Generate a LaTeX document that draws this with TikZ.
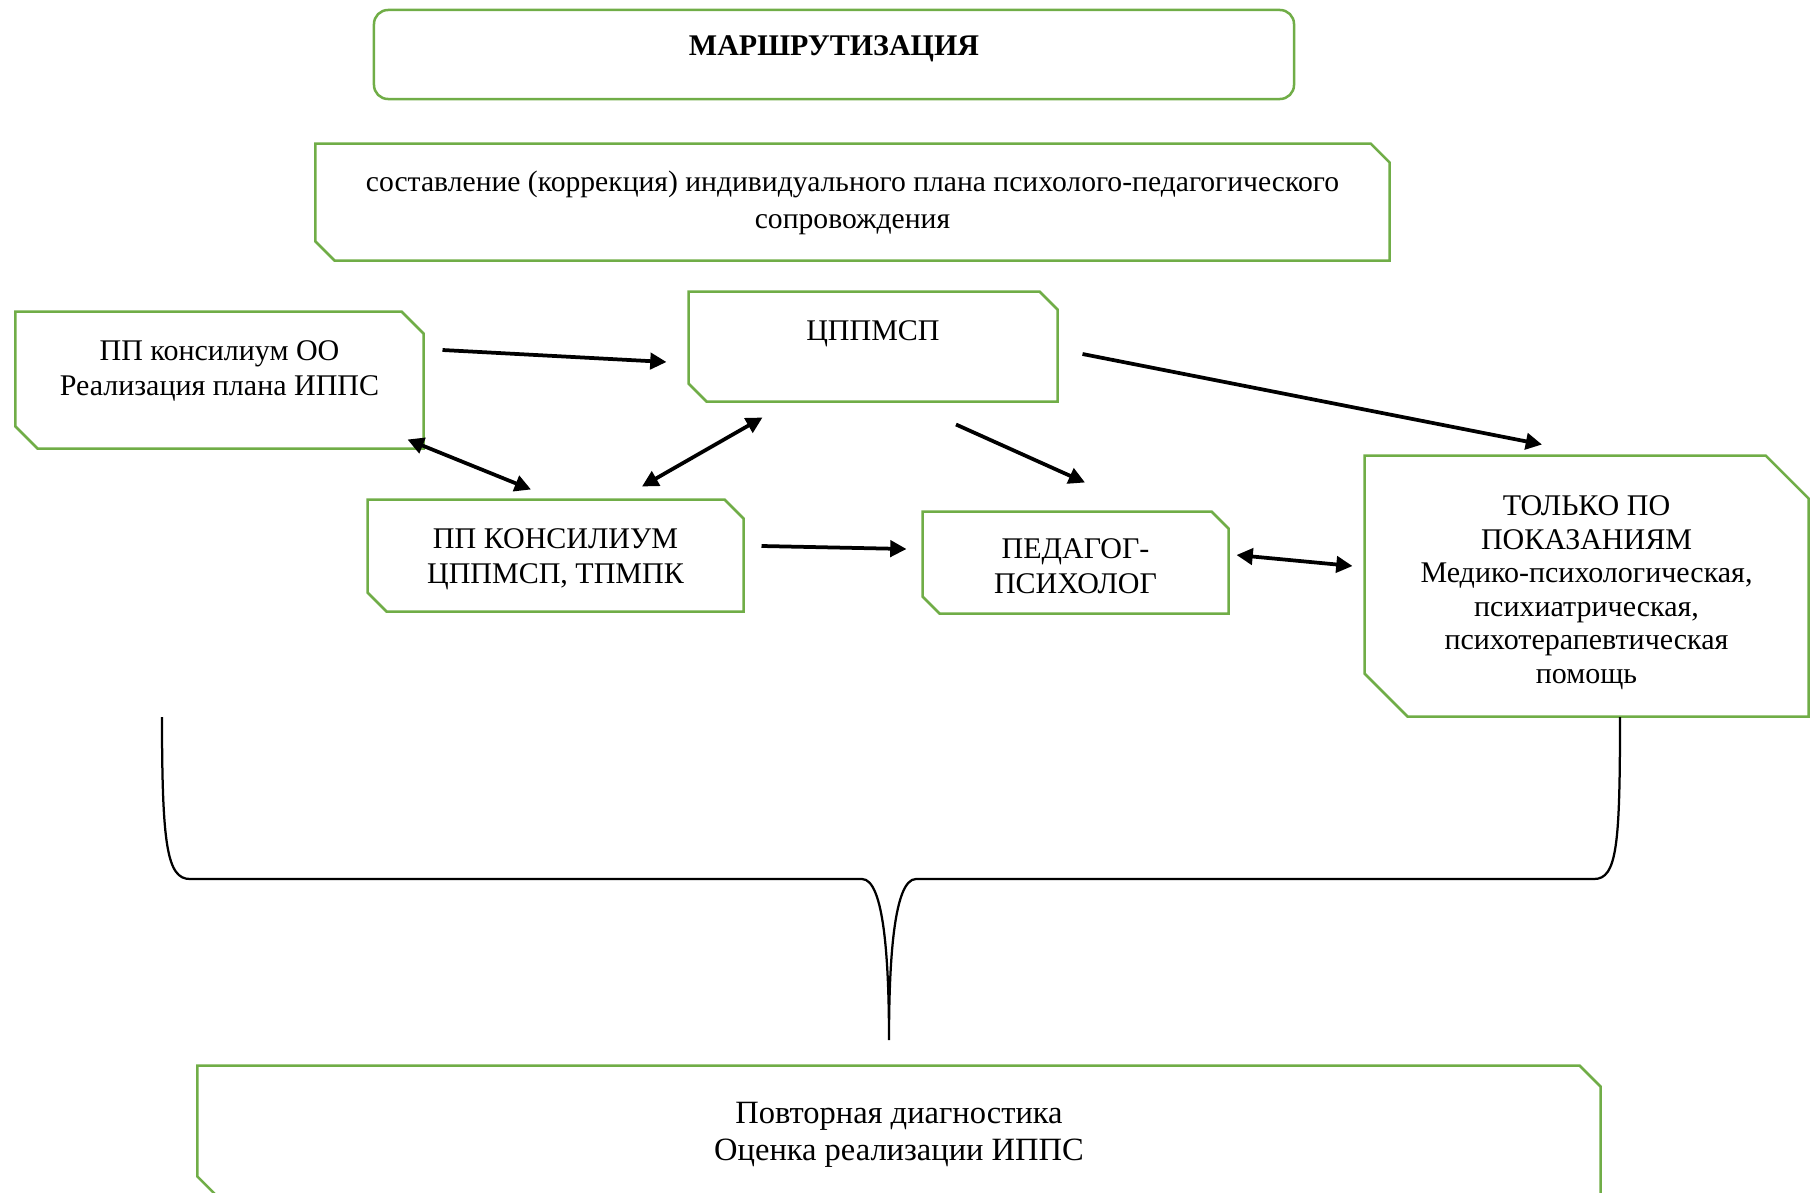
\documentclass[tikz,border=0pt]{standalone}
\usepackage{fontspec}
\setmainfont{Liberation Serif}
\usetikzlibrary{arrows.meta}
\definecolor{boxgreen}{HTML}{70AD47}
\tikzset{ %inner sep = 0pt,
  >={Triangle[length=6.5pt,width=6.5pt]},
  {box/.style} ={rectangle, inner sep=0pt, align=center,
                 font=\fontsize{12}{14}\selectfont},
  {title box/.style} ={box, draw=boxgreen, line width=1pt,
                 rounded corners=5.6pt},
  {snip line/.style} ={draw=boxgreen, line width=1pt},
  {link/.style} ={draw, line width=1.5pt},
  {brace line/.style} ={draw, line width=0.9pt},
 }

\begin{document}
\begin{tikzpicture}[x=0.4pt, y=-0.4pt]
\useasboundingbox (0,0) rectangle (1814,1193);
\clip (0,0) rectangle (1814,1193);

\node[title box, minimum width=368pt, minimum height=35.6pt,
      label={[box, yshift=2.4pt]center:\textbf{МАРШРУТИЗАЦИЯ}}] (title) at (834,54.5) {};
\node[box, minimum width=429.2pt, minimum height=46.4pt,
      label={[box, yshift=-0.5pt, font=\fontsize{11.85}{14.8}\selectfont]center:составление
        (коррекция) индивидуального плана психолого-педагогического\\сопровождения}]
      (plan) at (852.5,202) {};
\node[box, minimum width=162.8pt, minimum height=54.4pt,
      label={[box, yshift=3.8pt]center:ПП консилиум ОО\\Реализация плана ИППС}] (oo) at (219.5,380) {};
\node[box, minimum width=147.2pt, minimum height=43.6pt,
      label={[box, yshift=5pt]center:ЦППМСП}] (cppmsp) at (873,346.5) {};
\node[box, minimum width=150pt, minimum height=44.4pt,
      label={[box, yshift=-1.4pt]center:ПП КОНСИЛИУМ\\ЦППМСП, ТПМПК}] (tpmpk) at (555.5,555.5) {};
\node[box, minimum width=122pt, minimum height=40.4pt,
      label={[box, yshift=-1.6pt]center:ПЕДАГОГ-\\ПСИХОЛОГ}] (ped) at (1075.5,562.5) {};
\node[box, minimum width=177.2pt, minimum height=104pt,
      label={[box, yshift=-2.6pt, font=\fontsize{12}{13.4}\selectfont]center:ТОЛЬКО ПО\\ПОКАЗАНИЯМ\\Медико-психологическая,\\психиатрическая,\\психотерапевтическая\\помощь}]
      (indic) at (1586.5,586) {};
\node[box, minimum width=560.8pt, minimum height=52.4pt,
      label={[box, yshift=-1.4pt, font=\fontsize{13}{14.8}\selectfont]center:Повторная
        диагностика\\Оценка реализации ИППС}] (recheck) at (899,1131.5) {};

% snipped corners
\foreach \n/\c in {plan/19, oo/22, cppmsp/18, tpmpk/19, ped/17, indic/43, recheck/21}
  \draw[snip line] (\n.north west) -- ([xshift=-\c*0.4pt]\n.north east)
    -- ([yshift=-\c*0.4pt]\n.north east) -- (\n.south east)
    -- ([xshift=\c*0.4pt]\n.south west) -- ([yshift=\c*0.4pt]\n.south west) -- cycle;

\draw[link, ->] ([shift={(19,-30)}]oo.east) -- ([shift={(-22,15.5)}]cppmsp.west);
\draw[link, <->] ([shift={(-16,-9)}]oo.south east) -- ([shift={(-24.5,-10)}]tpmpk.north);
\draw[link, <->] ([shift={(86.5,-13)}]tpmpk.north) -- ([shift={(74,16)}]cppmsp.south west);
\draw[link, ->] ([shift={(83,23)}]cppmsp.south) -- ([shift={(9.5,-29)}]ped.north);
\draw[link, ->] ([shift={(25,7.5)}]cppmsp.east) -- ([shift={(-44.5,-11)}]indic.north);
\draw[link, ->] ([shift={(18,-9.5)}]tpmpk.east) -- ([shift={(-16,-13.5)}]ped.west);
\draw[link, <->] ([shift={(8,-7.5)}]ped.east) -- ([shift={(-12,-20)}]indic.west);

%\draw[help lines] (0,0) grid (1814,1193);
\draw[brace line] (162,717) .. controls (162,845) and (167,879) .. (190,879) -- (862,879)
  .. controls (884,879) and (889,960) .. (889,1040)
  .. controls (889,960) and (894,879) .. (916,879) -- (1594,879)
  .. controls (1617,879) and (1620,845) .. (1620,717);
\end{tikzpicture}
\end{document}
